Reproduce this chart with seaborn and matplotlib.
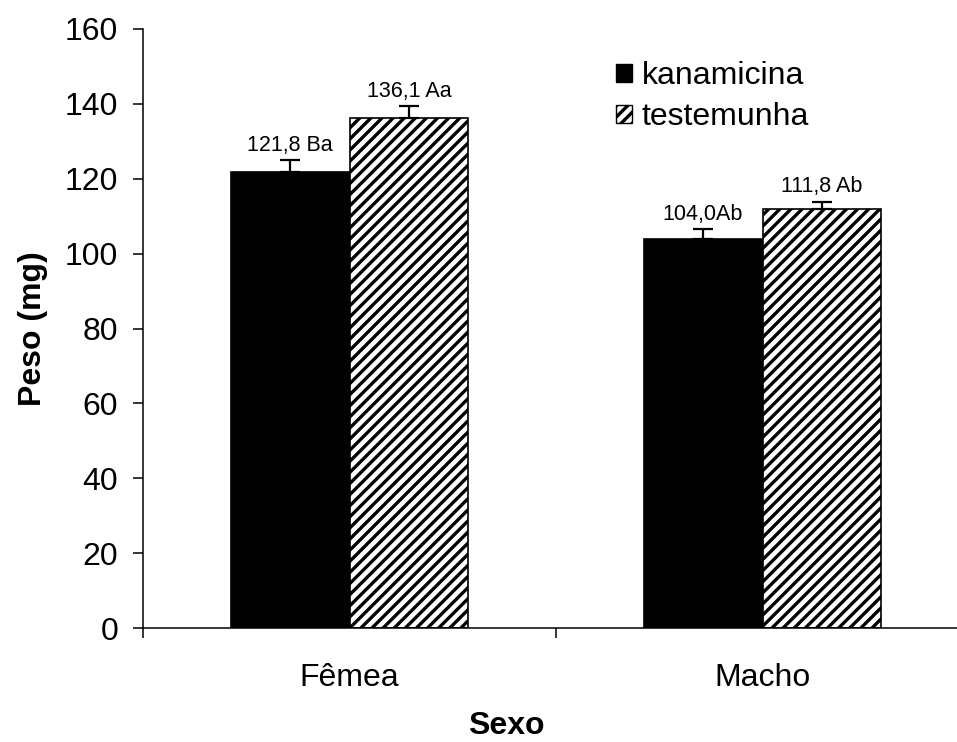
import matplotlib
matplotlib.use("Agg")
import matplotlib.pyplot as plt
import matplotlib.patches as mpatches
import seaborn as sns
import pandas as pd
import numpy as np

# ---- data ----
sexo = ["Fêmea", "Macho"]
tratamentos = ["kanamicina", "testemunha"]
kanamicina = [121.8, 104.0]
testemunha = [136.1, 111.8]
err_kanamicina = [3.2, 2.6]
err_testemunha = [3.2, 2.1]
labels_kanamicina = ["121,8 Ba", "104,0Ab"]
labels_testemunha = ["136,1 Aa", "111,8 Ab"]
yticks = [0, 20, 40, 60, 80, 100, 120, 140, 160]

df = pd.DataFrame({
    "Sexo": sexo * 2,
    "Peso": kanamicina + testemunha,
    "Tratamento": [tratamentos[0]] * 2 + [tratamentos[1]] * 2,
})

sns.set_theme(style="white")
plt.rcParams["font.family"] = ["Liberation Sans", "DejaVu Sans"]
plt.rcParams["hatch.linewidth"] = 2.4
plt.rcParams["hatch.color"] = "black"
plt.rcParams["text.color"] = "black"
plt.rcParams["axes.labelcolor"] = "black"
plt.rcParams["xtick.color"] = "black"
plt.rcParams["ytick.color"] = "black"

fig = plt.figure(figsize=(9.57, 7.42), dpi=100)
ax = fig.add_axes([143 / 957, 1 - 628 / 742, 826 / 957, 599 / 742])

sns.barplot(data=df, x="Sexo", y="Peso", hue="Tratamento", order=sexo,
            hue_order=tratamentos, palette=["black", "white"], width=0.576,
            errorbar=None, edgecolor="black", linewidth=1.2, ax=ax, legend=False)

conts = ax.containers
for p in conts[1]:
    p.set_hatch("///")

fs_tick = 23
for cont, vals, errs, labs in [(conts[0], kanamicina, err_kanamicina, labels_kanamicina),
                               (conts[1], testemunha, err_testemunha, labels_testemunha)]:
    xs = [p.get_x() + p.get_width() / 2 for p in cont]
    ax.errorbar(xs, vals, yerr=[np.zeros(len(errs)), errs], fmt="none",
                ecolor="black", elinewidth=1.6, capsize=7, capthick=1.6, zorder=5)
    for x, v, e, lab in zip(xs, vals, errs, labs):
        ax.annotate(lab, (x, v + e), xytext=(0, 3), textcoords="offset points",
                    ha="center", va="bottom", fontsize=15.5, color="black")

ax.set_ylim(0, 160)
ax.set_xlim(-0.5, 1.5)
ax.set_yticks(yticks)
ax.set_yticklabels([str(t) for t in yticks])
ax.tick_params(axis="y", which="major", direction="out", length=7, width=1.1,
               color="black", labelcolor="black", labelsize=fs_tick, pad=11, left=True)
ax.tick_params(axis="x", which="major", length=0, labelsize=fs_tick, pad=25,
               labelcolor="black")
ax.set_xticks([-0.5, 0.5, 1.5], minor=True)
ax.tick_params(axis="x", which="minor", direction="out", length=7, width=1.1,
               color="black", bottom=True)

for s in ["top", "right"]:
    ax.spines[s].set_visible(False)
for s in ["left", "bottom"]:
    ax.spines[s].set_color("black")
    ax.spines[s].set_linewidth(1.1)

ax.set_ylabel("Peso (mg)", fontsize=fs_tick, fontweight="bold", color="black")
ax.set_xlabel("Sexo", fontsize=fs_tick, fontweight="bold", color="black")
ax.yaxis.set_label_coords(-0.115, 0.5)
ax.xaxis.set_label_coords(0.44, -0.138)

handles = [mpatches.Patch(facecolor="black", edgecolor="black", label=tratamentos[0]),
           mpatches.Patch(facecolor="white", edgecolor="black", hatch="///", label=tratamentos[1])]
leg = ax.legend(handles=handles, loc="upper left", bbox_to_anchor=(616 / 957, 1 - 61 / 742),
                bbox_transform=fig.transFigure, frameon=False, fontsize=fs_tick,
                handlelength=0.5, handleheight=0.5, handletextpad=0.3, labelspacing=0.35,
                borderpad=0, borderaxespad=0)
for t in leg.get_texts():
    t.set_color("black")

fig.savefig("out.png", dpi=100)
